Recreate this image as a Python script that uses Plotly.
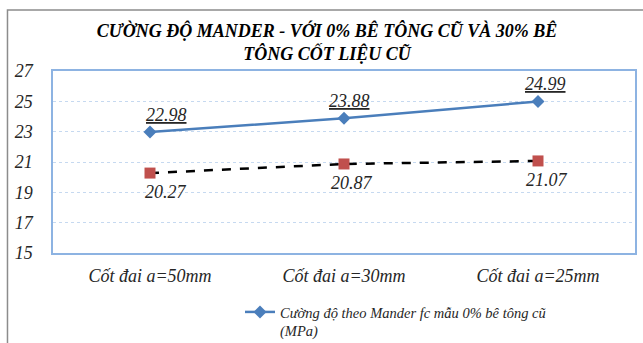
import plotly.graph_objects as go

# Categories and measured strengths (MPa)
categories = ["Cốt đai a=50mm", "Cốt đai a=30mm", "Cốt đai a=25mm"]
fc_0pct = [22.98, 23.88, 24.99]
fc_30pct = [20.27, 20.87, 21.07]
name_0pct = "Cường độ theo Mander fc mẫu 0% bê tông cũ<br>(MPa)"
name_30pct = "Cường độ theo Mander fc mẫu 30% bê tông cốt liệu cũ (MPa)"
y_ticks = [15, 17, 19, 21, 23, 25, 27]

FONT = "Liberation Serif"
BLUE = "#4a7ebb"
RED = "#c0504d"
TXT = "#262626"


def it(s):
    return "<br>".join(f"<i>{p}</i>" for p in s.split("<br>"))


fig = go.Figure()

fig.add_trace(go.Scatter(
    x=categories, y=fc_0pct, name=it(name_0pct), mode="lines+markers",
    line=dict(color=BLUE, width=2.5),
    marker=dict(symbol="diamond", size=10, color=BLUE),
))
fig.add_trace(go.Scatter(
    x=categories, y=fc_30pct, name=it(name_30pct), mode="lines+markers",
    line=dict(color="black", width=2.5, dash="dash"),
    marker=dict(symbol="square", size=11, color=RED),
    showlegend=False,
))

# value labels: above the first series (underlined), below the second
label_shift_top = [16, 5, 7]
label_shift_bottom = [16, 8, 9]
for i, c in enumerate(categories):
    fig.add_annotation(
        x=c, y=fc_0pct[i], text=f"<i><u>{fc_0pct[i]:.2f}</u></i>",
        showarrow=False, yanchor="bottom", yshift=5, xshift=label_shift_top[i],
        font=dict(family=FONT, size=18, color=TXT),
    )
    fig.add_annotation(
        x=c, y=fc_30pct[i], text=f"<i>{fc_30pct[i]:.2f}</i>",
        showarrow=False, yanchor="top", yshift=-7, xshift=label_shift_bottom[i],
        font=dict(family=FONT, size=18, color=TXT),
    )

# outer chart border (partially visible)
fig.add_shape(
    type="rect", xref="paper", yref="paper",
    x0=-0.0782, x1=1.2, y0=-0.8, y1=1.335,
    line=dict(color="#8c8c8c", width=1.5), fillcolor="rgba(0,0,0,0)", layer="below",
)

fig.update_layout(
    template="none",
    font=dict(family=FONT, size=16, color=TXT),
    width=643, height=343,
    margin=dict(l=53, r=8, t=71, b=90, autoexpand=False),
    paper_bgcolor="white", plot_bgcolor="white",
    title=dict(
        text="<b><i>CƯỜNG ĐỘ MANDER - VỚI 0% BÊ TÔNG CŨ VÀ 30% BÊ<br>TÔNG CỐT LIỆU CŨ</i></b>",
        x=0.5086, xref="container", xanchor="center",
        y=1 - 37 / 343, yref="container", yanchor="top",
        font=dict(family=FONT, size=18, color="black"),
    ),
    legend=dict(
        x=(240 - 53) / 582, y=(253 - 296) / 182, xanchor="left", yanchor="top",
        xref="paper", yref="paper", valign="top",
        font=dict(family=FONT, size=14.5, color=TXT),
        bgcolor="rgba(0,0,0,0)", itemwidth=30, tracegroupgap=0,
    ),
    showlegend=True,
)

fig.update_xaxes(
    range=[-0.5, 2.5], tickvals=categories, ticktext=[it(c) for c in categories],
    showline=True, mirror=True, linecolor="#8db3e2", linewidth=1.5,
    showgrid=False, ticks="", ticklabelstandoff=6,
    tickfont=dict(family=FONT, size=18, color=TXT),
)
fig.update_yaxes(
    range=[15, 27], tickvals=y_ticks, ticktext=[it(str(v)) for v in y_ticks],
    showline=True, mirror=True, linecolor="#8db3e2", linewidth=1.5,
    showgrid=True, gridcolor="#c6d9f0", griddash="dot", gridwidth=1,
    zeroline=False, ticks="", ticklabelstandoff=15,
    tickfont=dict(family=FONT, size=18, color=TXT),
)

fig.write_html("out.html")
